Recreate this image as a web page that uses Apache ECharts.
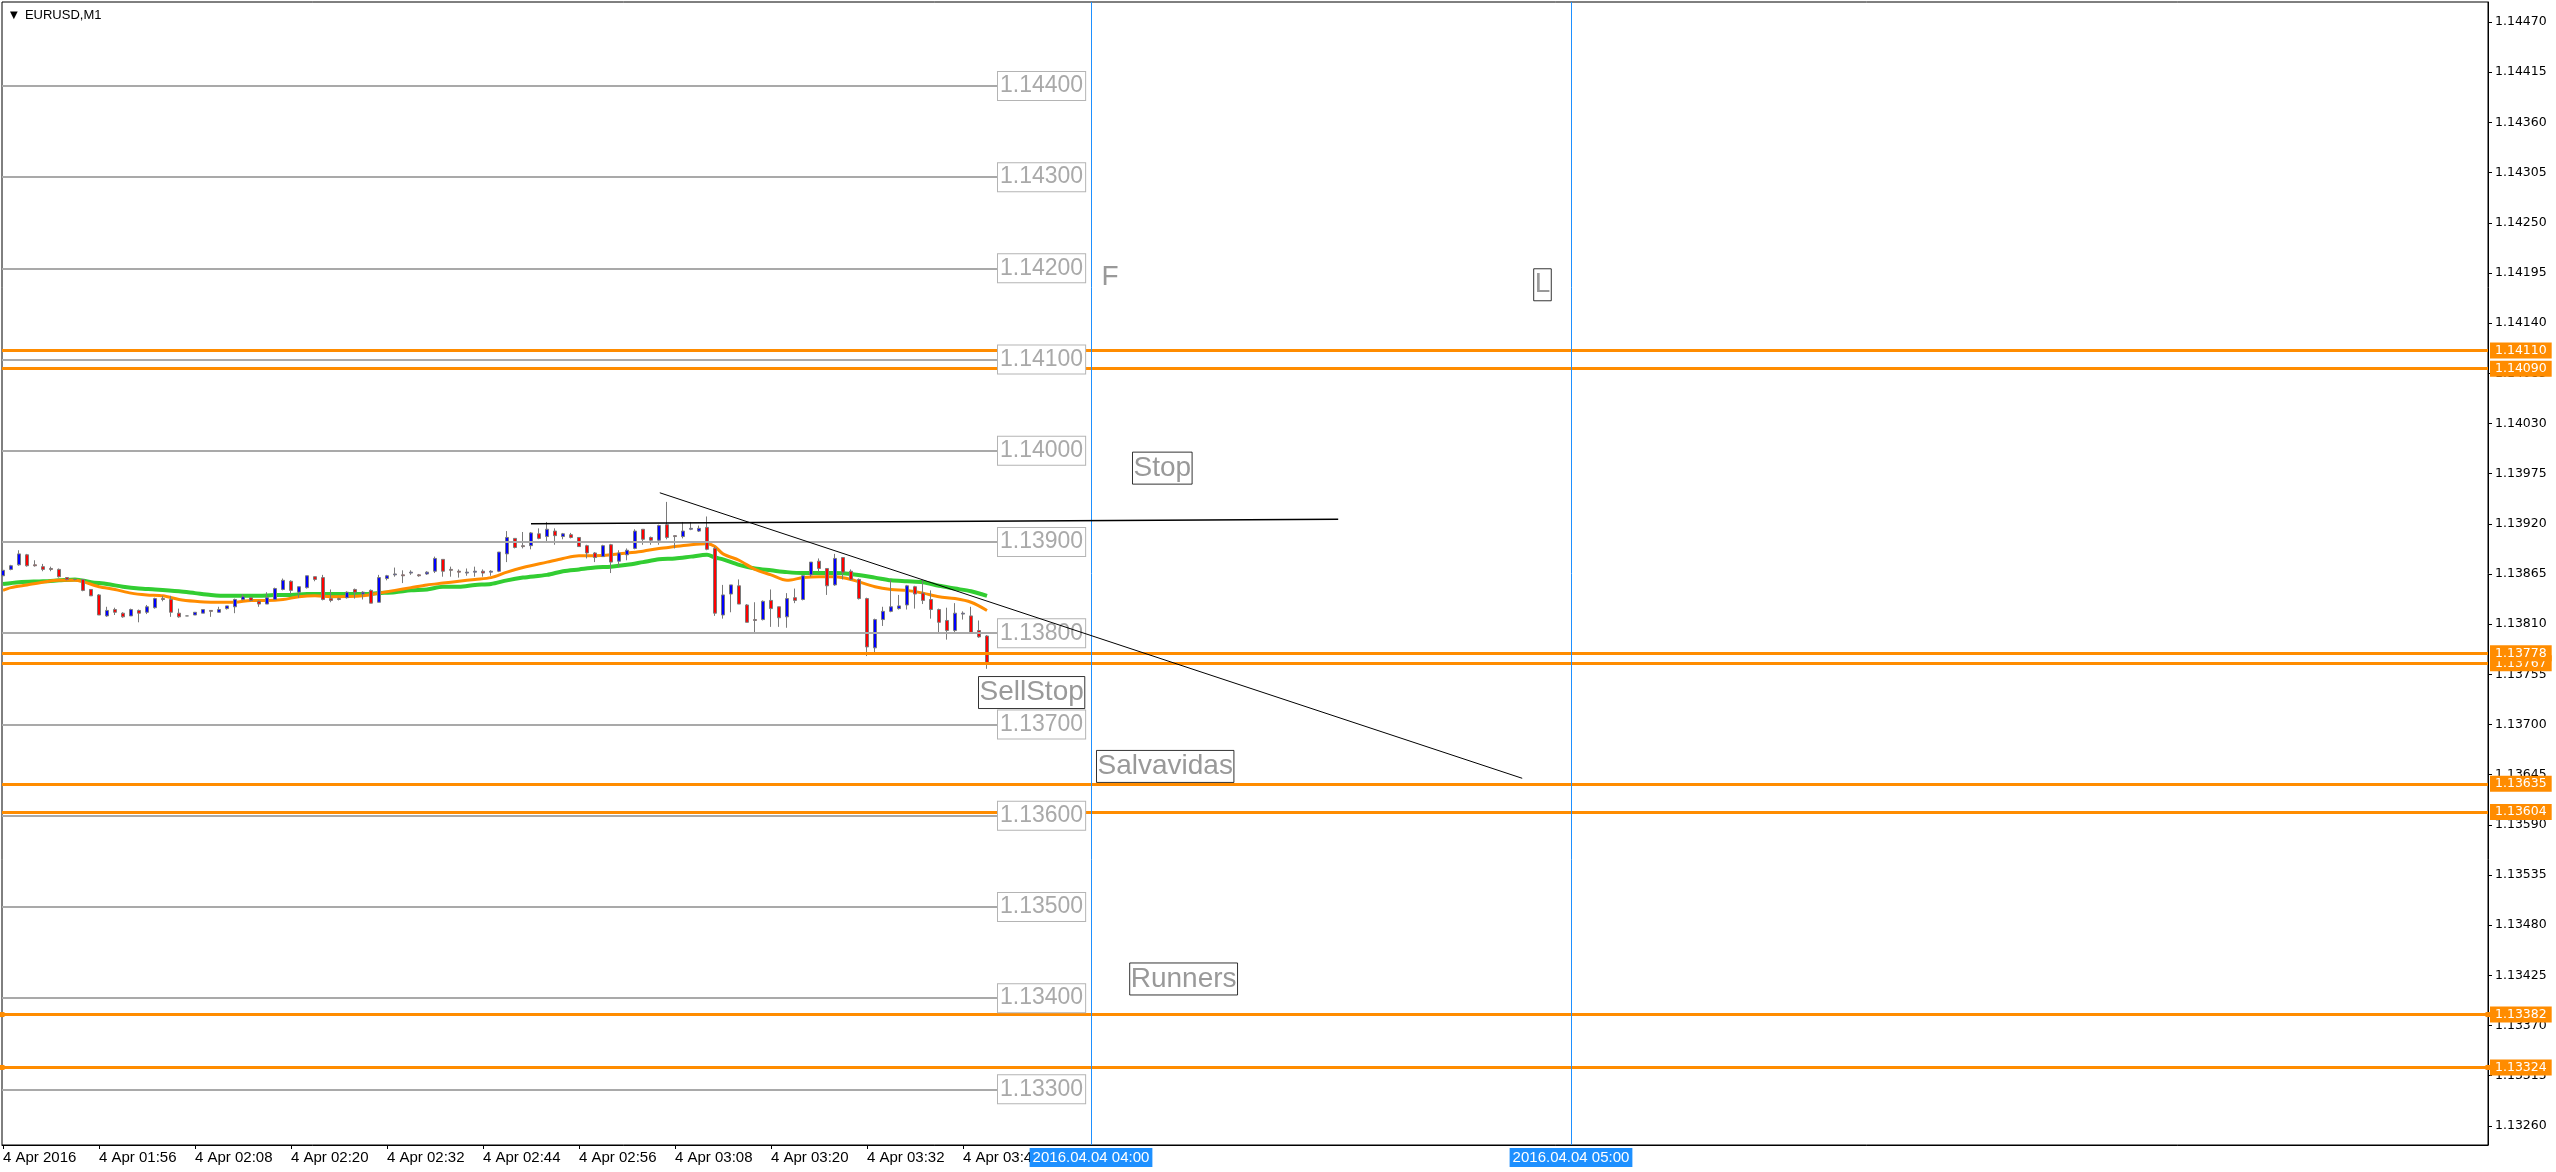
<!DOCTYPE html>
<html>
<head>
<meta charset="utf-8">
<title>EURUSD,M1</title>
<script src="https://cdn.jsdelivr.net/npm/echarts@6/dist/echarts.min.js"></script>
<style>
  html, body { margin: 0; padding: 0; background: #fff; }
  #chart { width: 2556px; height: 1172px; }
</style>
</head>
<body>
<div id="chart"></div>
<script>
// x is a minute index, 0 = 4 Apr 2016 01:44
const xTickIdx = [0, 12, 24, 36, 48, 60, 72, 84, 96, 108, 120]
const xTickLabels = ['4 Apr 2016', '4 Apr 01:56', '4 Apr 02:08', '4 Apr 02:20', '4 Apr 02:32', '4 Apr 02:44',
  '4 Apr 02:56', '4 Apr 03:08', '4 Apr 03:20', '4 Apr 03:32', '4 Apr 03:44']
const yTickLabels = ['1.13260', '1.13315', '1.13370', '1.13425', '1.13480', '1.13535', '1.13590', '1.13645',
  '1.13700', '1.13755', '1.13810', '1.13865', '1.13920', '1.13975', '1.14030', '1.14085', '1.14140', '1.14195',
  '1.14250', '1.14305', '1.14360', '1.14415', '1.14470']

const opens = [
  1.13863, 1.13870, 1.13875, 1.13886, 1.13875, 1.13873, 1.13871, 1.13870, 1.13861, 1.13859,
  1.13859, 1.13848, 1.13842, 1.13819, 1.13826, 1.13822, 1.13819, 1.13825, 1.13823, 1.13828,
  1.13838, 1.13837, 1.13822, 1.13819, 1.13820, 1.13822, 1.13825, 1.13823, 1.13827, 1.13829,
  1.13837, 1.13839, 1.13835, 1.13832, 1.13837, 1.13848, 1.13857, 1.13845, 1.13850, 1.13862,
  1.13861, 1.13838, 1.13838, 1.13839, 1.13848, 1.13843, 1.13847, 1.13834, 1.13860, 1.13864,
  1.13864, 1.13866, 1.13864, 1.13865, 1.13868, 1.13881, 1.13870, 1.13868, 1.13866, 1.13867,
  1.13868, 1.13867, 1.13868, 1.13887, 1.13904, 1.13896, 1.13896, 1.13909, 1.13906, 1.13912,
  1.13906, 1.13908, 1.13905, 1.13896, 1.13888, 1.13884, 1.13897, 1.13879, 1.13886, 1.13893,
  1.13914, 1.13905, 1.13902, 1.13919, 1.13907, 1.13906, 1.13914, 1.13912, 1.13916, 1.13893,
  1.13820, 1.13843, 1.13852, 1.13831, 1.13815, 1.13815, 1.13836, 1.13829, 1.13818, 1.13839,
  1.13837, 1.13864, 1.13879, 1.13871, 1.13853, 1.13883, 1.13868, 1.13859, 1.13838, 1.13784,
  1.13815, 1.13824, 1.13827, 1.13831, 1.13851, 1.13844, 1.13837, 1.13826, 1.13814, 1.13803,
  1.13821, 1.13819, 1.13803, 1.13797
]
const closes = [
  1.13869, 1.13874, 1.13887, 1.13874, 1.13874, 1.13870, 1.13870, 1.13862, 1.13859, 1.13859,
  1.13847, 1.13841, 1.13820, 1.13825, 1.13823, 1.13818, 1.13826, 1.13822, 1.13829, 1.13838,
  1.13837, 1.13823, 1.13818, 1.13819, 1.13823, 1.13826, 1.13824, 1.13826, 1.13830, 1.13837,
  1.13840, 1.13836, 1.13832, 1.13839, 1.13849, 1.13858, 1.13847, 1.13851, 1.13863, 1.13859,
  1.13837, 1.13836, 1.13837, 1.13845, 1.13845, 1.13845, 1.13833, 1.13861, 1.13863, 1.13865,
  1.13863, 1.13867, 1.13863, 1.13867, 1.13882, 1.13868, 1.13869, 1.13867, 1.13867, 1.13868,
  1.13866, 1.13868, 1.13889, 1.13905, 1.13894, 1.13895, 1.13910, 1.13904, 1.13914, 1.13907,
  1.13909, 1.13905, 1.13895, 1.13888, 1.13883, 1.13896, 1.13878, 1.13888, 1.13891, 1.13912,
  1.13903, 1.13902, 1.13918, 1.13905, 1.13906, 1.13912, 1.13915, 1.13915, 1.13892, 1.13822,
  1.13842, 1.13853, 1.13832, 1.13812, 1.13814, 1.13835, 1.13827, 1.13817, 1.13838, 1.13836,
  1.13863, 1.13878, 1.13871, 1.13852, 1.13882, 1.13867, 1.13859, 1.13838, 1.13785, 1.13815,
  1.13824, 1.13829, 1.13830, 1.13852, 1.13843, 1.13836, 1.13826, 1.13812, 1.13803, 1.13822,
  1.13822, 1.13801, 1.13796, 1.13767
]
const lows = [
  1.13862, 1.13869, 1.13874, 1.13873, 1.13873, 1.13868, 1.13868, 1.13861, 1.13858, 1.13858,
  1.13846, 1.13841, 1.13820, 1.13818, 1.13820, 1.13817, 1.13819, 1.13812, 1.13821, 1.13827,
  1.13835, 1.13818, 1.13817, 1.13819, 1.13820, 1.13822, 1.13818, 1.13823, 1.13826, 1.13822,
  1.13836, 1.13835, 1.13829, 1.13832, 1.13837, 1.13847, 1.13843, 1.13839, 1.13849, 1.13857,
  1.13836, 1.13834, 1.13836, 1.13838, 1.13838, 1.13837, 1.13833, 1.13834, 1.13858, 1.13862,
  1.13855, 1.13864, 1.13862, 1.13864, 1.13866, 1.13862, 1.13862, 1.13861, 1.13863, 1.13862,
  1.13862, 1.13863, 1.13867, 1.13878, 1.13893, 1.13893, 1.13892, 1.13903, 1.13899, 1.13897,
  1.13903, 1.13904, 1.13895, 1.13882, 1.13878, 1.13884, 1.13866, 1.13873, 1.13880, 1.13892,
  1.13897, 1.13897, 1.13897, 1.13903, 1.13893, 1.13904, 1.13913, 1.13911, 1.13891, 1.13819,
  1.13816, 1.13823, 1.13832, 1.13812, 1.13800, 1.13814, 1.13807, 1.13807, 1.13806, 1.13833,
  1.13836, 1.13862, 1.13867, 1.13842, 1.13852, 1.13859, 1.13858, 1.13837, 1.13775, 1.13777,
  1.13808, 1.13823, 1.13826, 1.13826, 1.13827, 1.13832, 1.13816, 1.13800, 1.13793, 1.13801,
  1.13815, 1.13800, 1.13795, 1.13761
]
const highs = [
  1.13870, 1.13875, 1.13891, 1.13887, 1.13880, 1.13876, 1.13873, 1.13871, 1.13861, 1.13859,
  1.13859, 1.13848, 1.13843, 1.13829, 1.13828, 1.13823, 1.13827, 1.13826, 1.13831, 1.13839,
  1.13841, 1.13841, 1.13827, 1.13819, 1.13823, 1.13826, 1.13825, 1.13829, 1.13830, 1.13838,
  1.13843, 1.13840, 1.13836, 1.13845, 1.13850, 1.13860, 1.13858, 1.13851, 1.13863, 1.13862,
  1.13864, 1.13848, 1.13839, 1.13846, 1.13849, 1.13846, 1.13848, 1.13864, 1.13864, 1.13872,
  1.13869, 1.13869, 1.13865, 1.13868, 1.13884, 1.13881, 1.13873, 1.13870, 1.13871, 1.13873,
  1.13870, 1.13869, 1.13889, 1.13912, 1.13904, 1.13911, 1.13911, 1.13915, 1.13922, 1.13915,
  1.13910, 1.13910, 1.13905, 1.13897, 1.13889, 1.13897, 1.13898, 1.13891, 1.13893, 1.13914,
  1.13914, 1.13906, 1.13919, 1.13944, 1.13907, 1.13922, 1.13922, 1.13918, 1.13928, 1.13895,
  1.13853, 1.13853, 1.13859, 1.13832, 1.13834, 1.13836, 1.13848, 1.13829, 1.13844, 1.13849,
  1.13864, 1.13878, 1.13882, 1.13871, 1.13887, 1.13883, 1.13870, 1.13860, 1.13839, 1.13816,
  1.13829, 1.13859, 1.13842, 1.13853, 1.13852, 1.13858, 1.13847, 1.13827, 1.13828, 1.13833,
  1.13824, 1.13829, 1.13814, 1.13798
]

const maOrange = [
  [0, 1.13847], [1, 1.13850], [3, 1.13853], [5, 1.13856], [7, 1.13858], [9, 1.13858], [12, 1.13851],
  [14, 1.13848], [16, 1.13844], [18, 1.13842], [20, 1.13841], [22, 1.13837], [24, 1.13835], [26, 1.13834],
  [29, 1.13834], [31, 1.13836], [33, 1.13836], [35, 1.13837], [37, 1.13840], [39, 1.13841], [41, 1.13840],
  [45, 1.13841], [47, 1.13844], [49, 1.13847], [51, 1.13850], [53, 1.13853], [55, 1.13855], [57, 1.13857],
  [59, 1.13859], [61, 1.13861], [63, 1.13867], [65, 1.13872], [68, 1.13878], [70, 1.13882], [72, 1.13885],
  [74, 1.13885], [76, 1.13886], [78, 1.13888], [80, 1.13890], [82, 1.13893], [84, 1.13895], [86, 1.13897],
  [88, 1.13898], [89, 1.13895], [90, 1.13887], [92, 1.13880], [94, 1.13870], [96, 1.13864], [98, 1.13858],
  [100, 1.13861], [102, 1.13862], [104, 1.13862], [106, 1.13859], [109, 1.13851], [111, 1.13848],
  [113, 1.13847], [115, 1.13844], [117, 1.13840], [119, 1.13838], [121, 1.13834], [123, 1.13825]
]
const maGreen = [
  [0, 1.13854], [2, 1.13856], [5, 1.13857], [7, 1.13858], [9, 1.13859], [11, 1.13856], [13, 1.13854],
  [15, 1.13851], [17, 1.13849], [19, 1.13848], [22, 1.13846], [24, 1.13844], [26, 1.13842], [28, 1.13841],
  [30, 1.13841], [32, 1.13841], [34, 1.13842], [36, 1.13842], [38, 1.13843], [41, 1.13843], [45, 1.13843],
  [47, 1.13844], [49, 1.13845], [51, 1.13847], [53, 1.13848], [55, 1.13851], [57, 1.13851], [59, 1.13853],
  [61, 1.13854], [63, 1.13858], [65, 1.13861], [68, 1.13864], [70, 1.13868], [72, 1.13870], [74, 1.13872],
  [76, 1.13873], [78, 1.13875], [80, 1.13878], [82, 1.13881], [84, 1.13882], [86, 1.13884], [88, 1.13886],
  [89, 1.13883], [90, 1.13881], [92, 1.13875], [94, 1.13871], [96, 1.13869], [98, 1.13867], [100, 1.13866],
  [102, 1.13866], [104, 1.13866], [106, 1.13865], [109, 1.13861], [111, 1.13858], [113, 1.13857],
  [115, 1.13856], [117, 1.13852], [119, 1.13849], [121, 1.13846], [123, 1.13841]
]

const levelPrices = [1.14400, 1.14300, 1.14200, 1.14100, 1.14000, 1.13900, 1.13800, 1.13700, 1.13600,
  1.13500, 1.13400, 1.13300]
// drawn in this order, so 1.13778 sits above 1.13767
const orangePrices = [1.14110, 1.14090, 1.13767, 1.13778, 1.13635, 1.13604, 1.13382, 1.13324]
const orangeHandles = [false, false, false, false, false, false, true, true]
const blueLineIdx = [136, 196]
const blueLineLabels = ['2016.04.04 04:00', '2016.04.04 05:00']

const trendA = [[82.1, 1.13954], [189.9, 1.13641]]
const trendB = [[66, 1.13920], [166.9, 1.13925]]

const noteTexts = ['F', 'L', 'Stop', 'SellStop', 'Salvavidas', 'Runners']
const noteIdx = [137.25, 191.4, 141.25, 122, 136.75, 140.9]
const notePrices = [1.14207, 1.14199, 1.13998, 1.13752, 1.13671, 1.13438]
const noteBoxed = [false, true, true, true, true, true]

const X_MIN = -0.125
const X_MAX = 310.625
const Y_MIN = 1.13239
const Y_MAX = 1.14492
const LEVEL_END = 124.25
const ORANGE = '#FF8C00'
const GRAY = '#A9A9A9'

const chart = echarts.init(document.getElementById('chart'), null, { renderer: 'canvas' })

const candles = opens.map((o, i) => [i, o, closes[i], lows[i], highs[i]])

chart.setOption({
  animation: false,
  backgroundColor: '#fff',
  title: {
    text: '{t|▼}  EURUSD,M1',
    left: 5,
    top: 4,
    textStyle: {
      fontFamily: 'Liberation Sans, Arial, sans-serif',
      fontSize: 13,
      fontWeight: 'normal',
      color: '#000',
      rich: { t: { fontSize: 10, color: '#000', fontFamily: 'DejaVu Sans' } },
    },
  },
  grid: {
    left: 2, right: 68, top: 2, bottom: 27,
    show: true, borderColor: '#000', borderWidth: 1, backgroundColor: '#fff',
  },
  xAxis: {
    type: 'value',
    min: X_MIN,
    max: X_MAX,
    axisLine: { show: true, onZero: false, lineStyle: { color: '#000', width: 1 } },
    axisTick: { show: true, length: 4, customValues: xTickIdx, lineStyle: { color: '#000' } },
    axisLabel: {
      customValues: xTickIdx,
      formatter: v => xTickLabels[xTickIdx.indexOf(Math.round(v))] || '',
      align: 'left',
      margin: 5,
      color: '#000',
      fontFamily: 'Liberation Sans, Arial, sans-serif',
      fontSize: 15,
    },
    splitLine: { show: false },
  },
  yAxis: {
    type: 'value',
    position: 'right',
    min: Y_MIN,
    max: Y_MAX,
    scale: true,
    axisLine: { show: true, onZero: false, lineStyle: { color: '#000', width: 1 } },
    axisTick: { show: true, length: 4, customValues: yTickLabels.map(Number), lineStyle: { color: '#000' } },
    axisLabel: {
      customValues: yTickLabels.map(Number),
      formatter: v => v.toFixed(5),
      margin: 7,
      color: '#000',
      fontFamily: 'DejaVu Sans, Verdana, sans-serif',
      fontSize: 12.5,
    },
    splitLine: { show: false },
  },
  series: [
    {
      // grey price levels with boxed labels
      name: 'levels',
      type: 'line',
      data: [],
      z: 1,
      markLine: {
        silent: true,
        symbol: 'none',
        lineStyle: { color: GRAY, width: 2, type: 'solid' },
        label: {
          show: true,
          position: 'end',
          distance: 1,
          formatter: '{b}',
          color: GRAY,
          fontFamily: 'Liberation Sans, Arial, sans-serif',
          fontSize: 23,
          lineHeight: 26,
          padding: [1, 2, 1, 2],
          borderColor: '#B4B4B4',
          borderWidth: 1,
          backgroundColor: '#fff',
        },
        emphasis: { disabled: true },
        data: levelPrices.map(p => [
          { name: p.toFixed(5), coord: [X_MIN, p] },
          { coord: [LEVEL_END, p] },
        ]),
      },
    },
    {
      // orange horizontal lines with price tags on the axis
      name: 'orange',
      type: 'line',
      data: [],
      z: 2,
      markLine: {
        silent: true,
        symbol: 'none',
        lineStyle: { color: ORANGE, width: 3, type: 'solid' },
        label: {
          show: true,
          position: 'end',
          distance: 2,
          formatter: '{b}',
          color: '#fff',
          backgroundColor: ORANGE,
          fontFamily: 'DejaVu Sans, Verdana, sans-serif',
          fontSize: 12.5,
          lineHeight: 14,
          padding: [1, 5, 1, 5],
        },
        emphasis: { disabled: true },
        data: orangePrices.map((p, i) => [
          { name: p.toFixed(5), coord: [X_MIN, p], symbol: orangeHandles[i] ? 'rect' : 'none', symbolSize: 5 },
          { coord: [X_MAX, p], symbol: orangeHandles[i] ? 'rect' : 'none', symbolSize: 5 },
        ]),
      },
    },
    {
      // vertical time lines
      name: 'times',
      type: 'line',
      data: [],
      z: 2,
      markLine: {
        silent: true,
        symbol: 'none',
        lineStyle: { color: '#1E90FF', width: 1, type: 'solid' },
        label: {
          show: true,
          position: 'start',
          distance: 3,
          formatter: '{b}',
          color: '#fff',
          backgroundColor: '#1E90FF',
          fontFamily: 'Liberation Sans, Arial, sans-serif',
          fontSize: 15,
          lineHeight: 17,
          padding: [1, 3, 1, 3],
        },
        emphasis: { disabled: true },
        data: blueLineIdx.map((x, i) => [
          { name: blueLineLabels[i], coord: [x, Y_MIN] },
          { coord: [x, Y_MAX] },
        ]),
      },
    },
    {
      name: 'MA slow',
      type: 'line',
      data: maGreen,
      showSymbol: false,
      smooth: 0.3,
      z: 3,
      lineStyle: { color: '#32CD32', width: 4 },
    },
    {
      name: 'MA fast',
      type: 'line',
      data: maOrange,
      showSymbol: false,
      smooth: 0.3,
      z: 3,
      lineStyle: { color: ORANGE, width: 3 },
    },
    {
      name: 'EURUSD',
      type: 'candlestick',
      dimensions: ['t', 'open', 'close', 'low', 'high'],
      encode: { x: 't', y: ['open', 'close', 'low', 'high'] },
      data: candles,
      barWidth: 4,
      z: 4,
      itemStyle: {
        color: '#0000FF',
        color0: '#FF0000',
        borderColor: '#7a7a7a',
        borderColor0: '#7a7a7a',
        borderColorDoji: '#7a7a7a',
        borderWidth: 1,
      },
    },
    {
      name: 'trend',
      type: 'line',
      data: trendA,
      showSymbol: false,
      z: 5,
      lineStyle: { color: '#000', width: 1 },
    },
    {
      name: 'flat',
      type: 'line',
      data: trendB,
      showSymbol: false,
      z: 5,
      lineStyle: { color: '#000', width: 1.5 },
    },
    {
      name: 'notes',
      type: 'scatter',
      symbolSize: 1,
      z: 6,
      itemStyle: { color: 'transparent' },
      data: noteTexts.map((t, i) => ({
        value: [noteIdx[i], notePrices[i]],
        label: {
          show: true,
          position: [0, 0],
          align: 'left',
          verticalAlign: 'top',
          formatter: t,
          color: '#808080',
          fontFamily: 'Liberation Sans, Arial, sans-serif',
          fontSize: 28,
          lineHeight: 30,
          padding: [1, 1, 1, 1],
          borderColor: noteBoxed[i] ? '#000' : 'transparent',
          borderWidth: noteBoxed[i] ? 1 : 0,
        },
      })),
    },
  ],
})
</script>
</body>
</html>
